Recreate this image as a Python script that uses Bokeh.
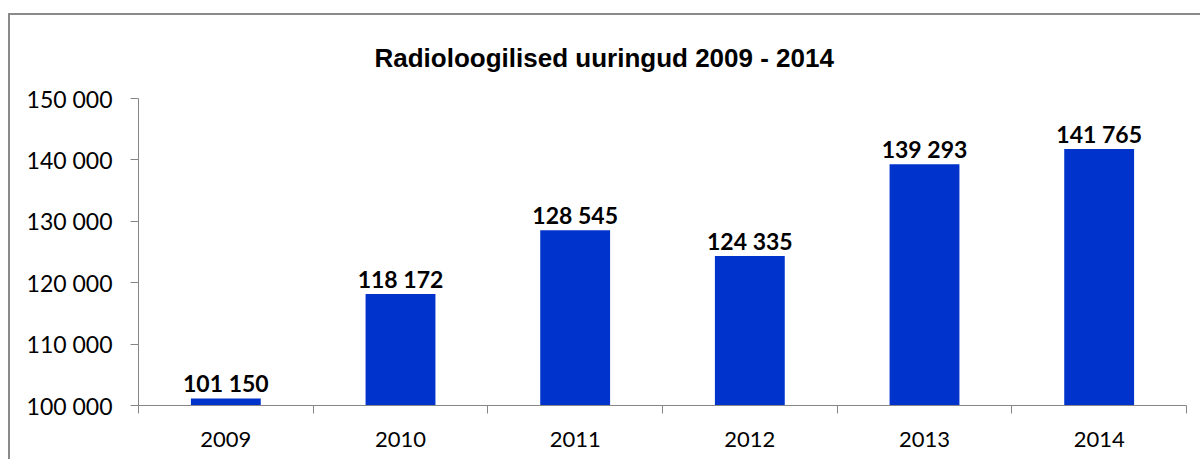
from bokeh.plotting import figure
from bokeh.models import ColumnDataSource, FixedTicker, LinearAxis, Range1d, Title
from bokeh.core.properties import value
from bokeh.embed import file_html
from bokeh.resources import INLINE

years = ["2009", "2010", "2011", "2012", "2013", "2014"]
counts = [101150, 118172, 128545, 124335, 139293, 141765]
y_ticks = [100000, 110000, 120000, 130000, 140000, 150000]
y_tick_labels = ["100 000", "110 000", "120 000", "130 000", "140 000", "150 000"]
title_text = "Radioloogilised uuringud 2009 - 2014"

GRAY = "#868686"
BLUE = "#0033CC"

xs = [i + 0.5 for i in range(len(years))]
labels = [f"{v:,}".replace(",", " ") for v in counts]
src = ColumnDataSource(dict(x=xs, top=counts, label=labels))

p = figure(width=1192, height=446, output_backend="svg", toolbar_location=None,
           x_range=Range1d(0, len(years)), y_range=Range1d(100000, 150000),
           min_border_left=128, min_border_right=16, min_border_top=83, min_border_bottom=56,
           x_axis_type=None, y_axis_type=None)
p.styles = {"margin-left": "8px", "margin-top": "13px",
            "border-top": "2px solid #8a8a8a", "border-left": "2px solid #8a8a8a"}
p.outline_line_color = None
p.background_fill_color = "white"
p.border_fill_color = "white"

t = Title(text=title_text, align="left", text_font="Liberation Sans",
          text_font_size="26px", text_font_style="bold", text_color="black",
          standoff=51, offset=236)
p.add_layout(t, "above")

# y axis
yax = LinearAxis(ticker=FixedTicker(ticks=y_ticks),
                 major_label_overrides={t_: l for t_, l in zip(y_ticks, y_tick_labels)})
yax.axis_line_color = GRAY
yax.major_tick_line_color = GRAY
yax.major_tick_out = 8
yax.major_tick_in = 0
yax.minor_tick_line_color = None
yax.major_label_text_font = "Lato"
yax.major_label_text_font_size = "23px"
yax.major_label_text_color = "black"
yax.major_label_standoff = 18
p.add_layout(yax, "left")

# x axis ticks at category boundaries
xax = LinearAxis(ticker=FixedTicker(ticks=list(range(len(years) + 1))))
xax.axis_line_color = GRAY
xax.major_tick_line_color = GRAY
xax.major_tick_out = 8
xax.major_tick_in = 0
xax.minor_tick_line_color = None
xax.major_label_text_font_size = "0px"
xax.major_label_text_color = None
xax.major_label_standoff = 0
p.add_layout(xax, "below")

# x labels at category centers
xlab = LinearAxis(ticker=FixedTicker(ticks=xs),
                  major_label_overrides={x: y for x, y in zip(xs, years)})
xlab.axis_line_color = None
xlab.major_tick_line_color = None
xlab.minor_tick_line_color = None
xlab.major_label_text_font = "Lato"
xlab.major_label_text_font_size = "22px"
xlab.major_label_text_color = "black"
xlab.major_label_standoff = 12
p.add_layout(xlab, "below")

p.xgrid.visible = False
p.ygrid.grid_line_color = GRAY
p.ygrid.ticker = FixedTicker(ticks=y_ticks)

p.vbar(x="x", top="top", bottom=100000, width=0.4, source=src,
       fill_color=BLUE, line_color=None)
p.text(x="x", y="top", text="label", source=src, text_align="center",
       text_baseline="bottom", y_offset=-1, text_font=value("Lato"),
       text_font_style="bold", text_font_size="23px", text_color="black")

open("out.html", "w").write(file_html(p, INLINE))
